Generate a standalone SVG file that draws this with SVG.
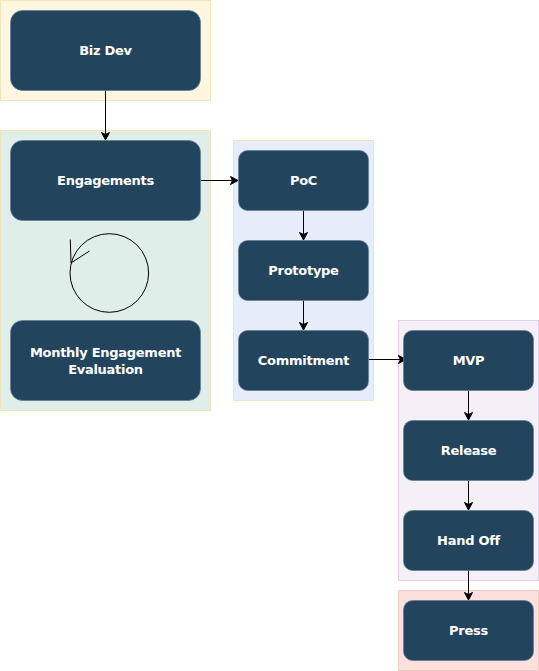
<svg xmlns="http://www.w3.org/2000/svg" width="539" height="671" viewBox="0 0 539 671">
<defs>
<marker id="arrow" markerUnits="userSpaceOnUse" markerWidth="10" markerHeight="10" refX="8" refY="4.500" orient="auto"><path d="M0.500 0.500L8 4.500L0.500 8.500L2.500 4.500Z" fill="#000" stroke="#000" stroke-width="1"/></marker>
</defs>
<style>
.box{fill:#23445d;stroke:#5f7c90;stroke-width:.7}
text{font-family:"DejaVu Sans",sans-serif;font-size:13px;font-weight:700;fill:#fff;text-anchor:middle;letter-spacing:-.28px}
.c{fill:none;stroke:#000;stroke-width:1;marker-end:url(#arrow)}
</style>
<g id="zones">
<rect x="0.500" y="0.500" width="210" height="100" fill="#fff6e2" stroke="#f0e4b8"/>
<rect x="0.500" y="130.500" width="210" height="280" fill="#dfeee9" stroke="#eee5bb"/>
<rect x="233.500" y="140.500" width="140" height="260" fill="#e6ecf8" stroke="#eee5c5"/>
<rect x="398.500" y="320.500" width="140" height="260" fill="#f5f0f8" stroke="#e0d0e4"/>
<rect x="398.500" y="590.500" width="140" height="80" fill="#fde0dd" stroke="#efc9c6"/>
</g>
<g id="connectors">
<path class="c" d="M105.500 90.500V140"/>
<path class="c" d="M200.500 180.500H238"/>
<path class="c" d="M303.500 210.500V240"/>
<path class="c" d="M303.500 300.500V330"/>
<path class="c" d="M368.500 359.500H406"/>
<path class="c" d="M468.500 390.500V420"/>
<path class="c" d="M468.500 480.500V510"/>
<path class="c" d="M468.500 570.500V600"/>
</g>
<g id="cycle" fill="none" stroke="#000" stroke-width="1">
<circle cx="109.300" cy="273" r="39.300"/>
<path d="M70.300 239.500L71 263L89.500 251"/>
</g>
<g id="biz-dev"><rect class="box" x="10.500" y="10.500" width="190" height="80" rx="12"/><text x="105.500" y="55">Biz Dev</text></g>
<g id="engagements"><rect class="box" x="10.500" y="140.500" width="190" height="80" rx="12"/><text x="105.500" y="185">Engagements</text></g>
<g id="monthly"><rect class="box" x="10.500" y="320.500" width="190" height="80" rx="12"/><text x="105.500" y="357">Monthly Engagement</text><text x="105.500" y="374">Evaluation</text></g>
<g id="poc"><rect class="box" x="238.500" y="150.500" width="130" height="60" rx="9"/><text x="303.500" y="185">PoC</text></g>
<g id="prototype"><rect class="box" x="238.500" y="240.500" width="130" height="60" rx="9"/><text x="303.500" y="275">Prototype</text></g>
<g id="commitment"><rect class="box" x="238.500" y="330.500" width="130" height="60" rx="9"/><text x="303.500" y="365">Commitment</text></g>
<g id="mvp"><rect class="box" x="403.500" y="330.500" width="130" height="60" rx="9"/><text x="468.500" y="365">MVP</text></g>
<g id="release"><rect class="box" x="403.500" y="420.500" width="130" height="60" rx="9"/><text x="468.500" y="455">Release</text></g>
<g id="hand-off"><rect class="box" x="403.500" y="510.500" width="130" height="60" rx="9"/><text x="468.500" y="545">Hand Off</text></g>
<g id="press"><rect class="box" x="403.500" y="600.500" width="130" height="60" rx="9"/><text x="468.500" y="635">Press</text></g>
</svg>
